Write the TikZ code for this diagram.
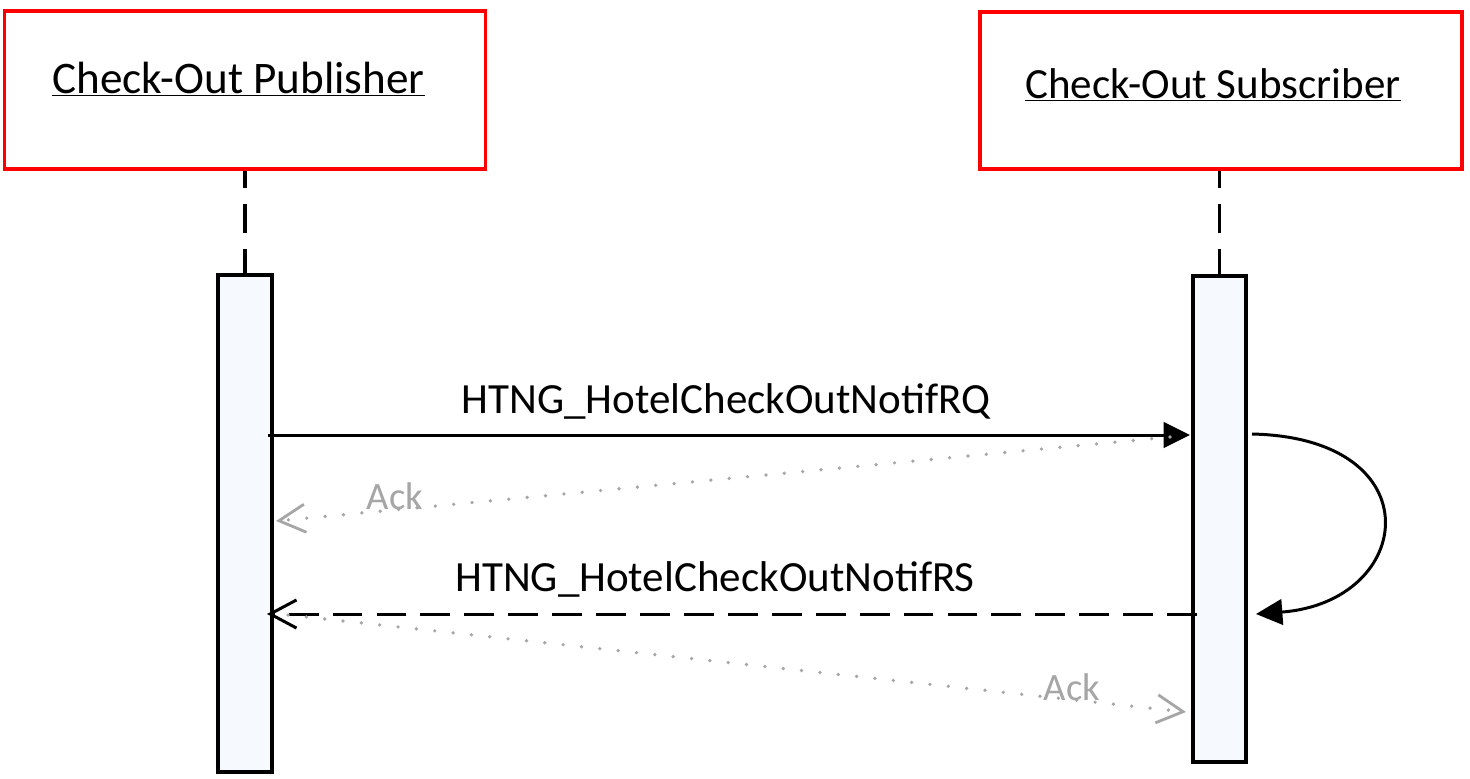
\documentclass[tikz,border=0pt]{standalone}
\usepackage{fontspec}
\setmainfont{Carlito}
\usetikzlibrary{arrows.meta}
\definecolor{boxred}{HTML}{FF0000}
\definecolor{actfill}{HTML}{F6F9FE}
\definecolor{ackgray}{HTML}{A6A6A6}
\begin{document}
\begin{tikzpicture}[x=0.02cm,y=-0.02cm,
  objbox/.style={draw=boxred,line width=2.2pt,fill=white,inner sep=0pt},
  actbox/.style={draw=black,line width=1.8pt,fill=actfill,inner sep=0pt},
  lifeline/.style={line width=1.8pt,dash pattern=on 16.5pt off 9pt,dash phase=6.8pt},
  msg/.style={line width=1.7pt,-{Triangle[length=15pt,width=14.5pt]}},
  reply/.style={line width=1.7pt,dash pattern=on 17pt off 8pt,-{Straight Barb[length=15pt,width=16pt,line width=1.7pt]}},
  ack/.style={ackgray,line width=2.1pt,line cap=round,dash pattern=on 0pt off 10.5pt,-{Straight Barb[length=15pt,width=16pt,line width=1.6pt,line cap=butt]}},
  title/.style={font=\fontsize{25.7}{30}\selectfont,inner sep=0pt},
  subtitle/.style={font=\fontsize{24.5}{29}\selectfont,inner sep=0pt},
  lbl/.style={font=\fontsize{24.5}{28}\selectfont,inner sep=0pt},
  acklbl/.style={font=\fontsize{22}{26}\selectfont,text=ackgray,inner sep=0pt}]
\fill[white] (0,0) rectangle (1470,778);
\useasboundingbox (0,0) rectangle (1470,778);
% objects
\node[objbox,minimum width={481*0.02cm},minimum height={158*0.02cm}] (pub) at (245,90) {};
\node[objbox,minimum width={482*0.02cm},minimum height={157*0.02cm}] (sub) at (1221,90.5) {};
\node[title,anchor=base] (pubt) at (238.5,93) {\underline{Check-Out Publisher}};
\node[subtitle,anchor=base] (subt) at (1213,98) {\underline{Check-Out Subscriber}};
% activations
\node[actbox,minimum width={54*0.02cm},minimum height={497*0.02cm}] (pa) at (245,523.5) {};
\node[actbox,minimum width={53*0.02cm},minimum height={486*0.02cm}] (sa) at (1219.5,519) {};
% lifelines
\draw[lifeline] (pub.south -| pa.north) -- (pa.north);
\draw[lifeline] (sub.south -| sa.north) -- (sa.north);
% coordinates
\coordinate (rqs) at (268,435);
\coordinate (rqe) at (1190,435);
\coordinate (ack1s) at (1170,437);
\coordinate (ack1e) at (276,521);
\coordinate (selfs) at (1252,434);
\coordinate (selfe) at (1256,614);
\coordinate (rss) at (1197,614);
\coordinate (rse) at (267,614);
\coordinate (ack2s) at (288,615);
\coordinate (ack2e) at (1186,712);
% messages
\draw[msg] (rqs) -- (rqe);
\node[lbl,anchor=base] (rql) at (726,413) {HTNG\_HotelCheckOutNotifRQ};
\draw[ack] (ack1s) -- (ack1e);
\node[acklbl,anchor=base] (ack1l) at (395,509) {Ack};
\draw[msg] (selfs) .. controls (1435,438) and (1415,602) .. (selfe);
\draw[reply] (rss) -- (rse);
\node[lbl,anchor=base] (rsl) at (715,591) {HTNG\_HotelCheckOutNotifRS};
\draw[ack] (ack2s) -- (ack2e);
\node[acklbl,anchor=base] (ack2l) at (1072,700) {Ack};
\end{tikzpicture}
\end{document}
